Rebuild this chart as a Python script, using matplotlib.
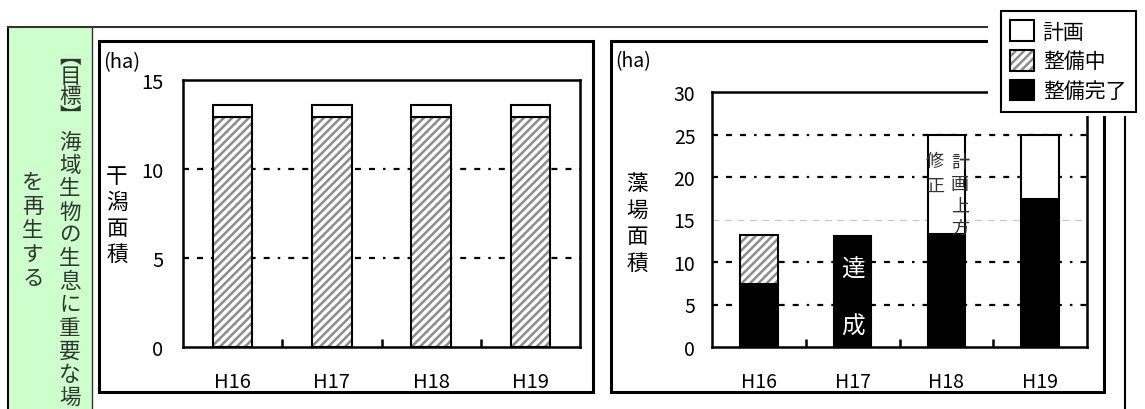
import matplotlib
matplotlib.use("Agg")
import matplotlib.pyplot as plt
from matplotlib.patches import Rectangle, Patch
from matplotlib.lines import Line2D
from matplotlib.legend_handler import HandlerTuple
import numpy as np

plt.rcParams['font.family'] = ['Noto Sans CJK JP', 'DejaVu Sans']
plt.rcParams['hatch.linewidth'] = 1.8
plt.rcParams['lines.scale_dashes'] = False

# data
years = ["H16", "H17", "H18", "H19"]
series_names = ["計画", "整備中", "整備完了"]

# 干潟面積 (ha)
higata_mid = [12.9, 12.9, 12.9, 12.9]
higata_plan = [0.7, 0.7, 0.7, 0.7]

# 藻場面積 (ha)
moba_done = [7.4, 13.1, 13.3, 17.4]
moba_mid = [5.8, 0, 0, 0]
moba_plan = [0, 0, 11.7, 7.6]

higata_grid = [5, 10]
moba_grid = [5, 10, 20, 25]
moba_faint = [15]

W, H = 1145, 410
fig = plt.figure(figsize=(W / 100, H / 100), dpi=100)


def fx(x):
    return x / W


def fy(y):
    return 1 - y / H


def frame(x0, y0, x1, y1, **kw):
    fig.add_artist(Rectangle((fx(x0), fy(y1)), (x1 - x0) / W, (y1 - y0) / H,
                             transform=fig.transFigure, **kw))


def hline(x0, x1, y, **kw):
    fig.add_artist(Line2D([fx(x0), fx(x1)], [fy(y), fy(y)], transform=fig.transFigure, **kw))


def vline(x, y0, y1, **kw):
    fig.add_artist(Line2D([fx(x), fx(x)], [fy(y0), fy(y1)], transform=fig.transFigure, **kw))


def vtext(x, y0, s, pitch, **kw):
    # vertical (tategaki) text, one character per row
    for i, ch in enumerate(s):
        fig.text(fx(x), fy(y0 + i * pitch), ch, ha='center', va='center', **kw)


HATCH_C = '#8c8c8c'
DASH = (0, (4.3, 5.8, 4.3, 5.8, 4.3, 5.8, 1.8, 5.8))

# green title panel and outer lines
frame(8, 28, 92, 415, facecolor='#ccffcc', edgecolor='none', zorder=0.5)
vline(8, 28, 410, color='black', lw=1.5)
vline(92, 28, 410, color='#333333', lw=1.0)
hline(8, 988, 28, color='#333333', lw=1.5)
vline(1125, 117, 410, color='black', lw=1.5)

vtext(70, 57, "︻目標︼", 20, fontsize=15.5, color='#333333')
vtext(70, 143, "海域生物の生息に重要な場", 23.2, fontsize=15.5, color='#333333')
vtext(33, 183, "を再生する", 24, fontsize=15.5, color='#333333')

# chart frames
frame(99, 42, 593, 393, fill=False, edgecolor='black', lw=2.2)
frame(611, 42, 1104, 393, fill=False, edgecolor='black', lw=2.2)

x = np.arange(len(years))
bw = 0.4


def style_axes(ax, ymax, labsize, xpad, ypad):
    ax.set_xlim(-0.5, len(years) - 0.5)
    ax.set_ylim(0, ymax)
    ax.set_yticks(np.arange(0, ymax + 1, 5))
    ax.set_xticks(x, years)
    ax.set_xticks(x[:-1] + 0.5, minor=True)
    ax.tick_params(axis='x', which='major', length=0, pad=xpad, labelsize=labsize)
    ax.tick_params(axis='x', which='minor', direction='in', length=6, width=1.8)
    ax.tick_params(axis='y', length=0, pad=ypad, labelsize=labsize)
    for sp in ax.spines.values():
        sp.set_linewidth(1.8)
        sp.set_color('black')


# 干潟
ax1 = fig.add_axes([fx(183), fy(348), (580 - 183) / W, (348 - 81) / H])
style_axes(ax1, 15, 14.5, 17, 14)
for v in higata_grid:
    ax1.axhline(v, color='black', lw=1.6, linestyle=DASH, zorder=1)
ax1.bar(x, higata_mid, bw, color='white', edgecolor=HATCH_C, hatch='////', lw=0, zorder=3)
ax1.bar(x, higata_mid, bw, fill=False, edgecolor='black', lw=1.5, zorder=4)
ax1.bar(x, higata_plan, bw, bottom=higata_mid, color='white', edgecolor='black', lw=1.5, zorder=4)

# 藻場
ax2 = fig.add_axes([fx(712), fy(348), (1087 - 712) / W, (348 - 93) / H])
style_axes(ax2, 30, 14, 17, 12)
for v in moba_grid:
    ax2.axhline(v, color='black', lw=1.6, linestyle=DASH, zorder=1)
for v in moba_faint:
    ax2.axhline(v, color='#c8c8c8', lw=0.8, linestyle=(0, (5, 4)), zorder=1)
done = np.array(moba_done)
mid = np.array(moba_mid)
plan = np.array(moba_plan)
m = done > 0
ax2.bar(x[m], done[m], bw, color='black', edgecolor='black', lw=1.5, zorder=3)
m = mid > 0
ax2.bar(x[m], mid[m], bw, bottom=done[m], color='white', edgecolor=HATCH_C, hatch='////', lw=0, zorder=3)
ax2.bar(x[m], mid[m], bw, bottom=done[m], fill=False, edgecolor='black', lw=1.5, zorder=4)
m = plan > 0
ax2.bar(x[m], plan[m], bw, bottom=(done + mid)[m], color='white', edgecolor='black', lw=1.5, zorder=4)

# axis titles / units
fig.text(fx(103), fy(63), "(ha)", ha='left', va='center', fontsize=14.5)
fig.text(fx(615), fy(62), "(ha)", ha='left', va='center', fontsize=14)
vtext(117, 177, "干潟面積", 26, fontsize=15.5, color='black')
vtext(637, 184, "藻場面積", 26.5, fontsize=15.5, color='black')

# annotations in the 藻場 chart
vtext(853, 270, "達", 0, fontsize=17, color='white', zorder=6)
vtext(853, 327, "成", 0, fontsize=17, color='white', zorder=6)
vtext(935, 162, "修正", 25, fontsize=13, color='#333333', zorder=6)
vtext(960, 163, "計画上方", 22, fontsize=13, color='#333333', zorder=6)

# white area behind legend
frame(988, 0, 1145, 117, facecolor='white', edgecolor='none', zorder=4)

h_plan = Patch(facecolor='white', edgecolor='black', lw=1.5)
h_mid = (Patch(facecolor='white', edgecolor=HATCH_C, hatch='////', lw=0),
         Patch(fill=False, edgecolor='black', lw=1.5))
h_done = Patch(facecolor='black', edgecolor='black', lw=1.5)
leg = fig.legend([h_plan, h_mid, h_done], series_names, loc='upper left',
                 bbox_to_anchor=(fx(1001), fy(12)), frameon=True, fancybox=False,
                 edgecolor='black', framealpha=1, borderpad=0.45, borderaxespad=0,
                 handlelength=1.15, handleheight=1.15, handletextpad=0.4,
                 labelspacing=0.35, fontsize=15,
                 handler_map={tuple: HandlerTuple(ndivide=1, pad=0)})
leg.get_frame().set_linewidth(1.5)
leg.set_zorder(6)

fig.savefig("out.png", dpi=100)
